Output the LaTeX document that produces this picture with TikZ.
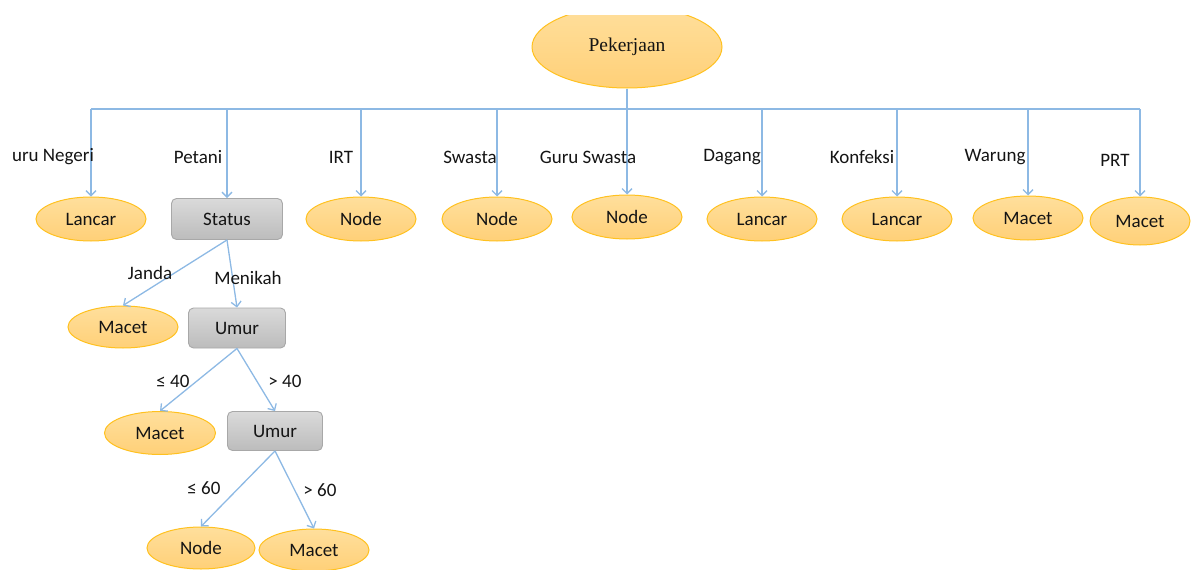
\documentclass[tikz,border=0pt]{standalone}
\usepackage{fontspec}
\setmainfont{Carlito}
\newfontfamily\rootfont{Liberation Serif}
\usetikzlibrary{arrows.meta,shapes.geometric}

\definecolor{leafline}{HTML}{FFC11F}
\definecolor{leaftop}{HTML}{FFDF9C}
\definecolor{leafbot}{HTML}{FFD078}
\definecolor{boxline}{HTML}{A8A8A8}
\definecolor{boxtop}{HTML}{DADADA}
\definecolor{boxbot}{HTML}{BCBCBC}
\definecolor{linkc}{HTML}{8DB9E4}
\definecolor{txt}{HTML}{141414}

\begin{document}
\begin{tikzpicture}[x=1pt,y=-1pt,
  every node/.style={text=txt},
  leaf/.style={ellipse, draw=leafline, line width=1pt, top color=leaftop,
    bottom color=leafbot, minimum width=110pt, minimum height=44pt,
    inner sep=0pt, font=\fontsize{19}{22}\selectfont},
  test/.style={rectangle, rounded corners=5pt, draw=boxline, line width=0.9pt,
    top color=boxtop, bottom color=boxbot, inner sep=0pt,
    font=\fontsize{19}{22}\selectfont},
  rootnode/.style={ellipse, draw=leafline, line width=1pt, top color=leaftop,
    bottom color=leafbot, minimum width=190pt, minimum height=82pt,
    inner sep=0pt, font=\rootfont\fontsize{19.5}{22}\selectfont},
  link/.style={draw=linkc, line width=1.3pt},
  arr/.style={link, -{Straight Barb[length=5pt,width=10pt,line width=1.3pt]}},
  lab/.style={inner sep=0pt, font=\fontsize{19}{22}\selectfont}
]
\useasboundingbox (0,0) rectangle (1192,570);

% root, cut off along the upper edge
\begin{scope}
  \clip (0,15) rectangle (1192,570);
  \node[rootnode] (root) at (627,47) {Pekerjaan};
\end{scope}

% first level
\node[leaf] (c1) at (91,219) {Lancar};
\node[test, minimum width=111pt, minimum height=41pt] (c2) at (227,219) {Status};
\node[leaf] (c3) at (361,219) {Node};
\node[leaf] (c4) at (497,219) {Node};
\node[leaf] (c5) at (627,217) {Node};
\node[leaf] (c6) at (762,219) {Lancar};
\node[leaf] (c7) at (897,219) {Lancar};
\node[leaf] (c8) at (1028,218) {Macet};
\node[leaf, minimum width=100pt, minimum height=48pt] (c9) at (1140,221) {Macet};

% bus points
\coordinate (b1) at (91,109);
\coordinate (b2) at (227,109);
\coordinate (b3) at (361,109);
\coordinate (b4) at (497,109);
\coordinate (b5) at (627,109);
\coordinate (b6) at (762,109);
\coordinate (b7) at (897,109);
\coordinate (b8) at (1028,109);
\coordinate (b9) at (1140,109);

\draw[link] (root.south) -- (b5);
\draw[link] (b1) -- (b9);
\foreach \i in {1,...,9} {
  \draw[arr] (b\i) -- (c\i.north);
}

% branch labels, first level
\node[lab] (l1) at (53,157) {uru Negeri};
\node[lab] (l2) at (198,157) {Petani};
\node[lab] (l3) at (341,157) {IRT};
\node[lab] (l4) at (470,157) {Swasta};
\node[lab] (l5) at (588,157) {Guru Swasta};
\node[lab] (l6) at (732,157) {Dagang};
\node[lab] (l7) at (862,157) {Konfeksi};
\node[lab] (l8) at (995,157) {Warung};
\node[lab] (l9) at (1115,160) {PRT};

% Status subtree
\node[leaf, minimum height=42pt] (m1) at (123,327) {Macet};
\node[test, minimum width=97pt, minimum height=40pt] (u1) at (237,328) {Umur};
\draw[arr] (c2.south) -- (m1.north);
\draw[arr] (c2.south) -- (u1.north);
\node[lab] (lj) at (150,273) {Janda};
\node[lab] (lm) at (248,278) {Menikah};

% first Umur split
\node[leaf, minimum width=111pt, minimum height=43pt] (m2) at (160,433) {Macet};
\node[test, minimum width=95pt, minimum height=39pt] (u2) at (275,431) {Umur};
\draw[arr] (u1.south) -- (m2.north);
\draw[arr] (u1.south) -- (u2.north);
\node[lab] (la) at (173,381) {≤ 40};
\node[lab] (lb) at (285,381) {> 40};

% second Umur split
\node[leaf, minimum width=108pt, minimum height=42pt] (n3) at (201,548) {Node};
\node[leaf, minimum height=42pt] (m3) at (314,550) {Macet};
\draw[arr] (u2.south) -- (n3.north);
\draw[arr] (u2.south) -- (m3.north);
\node[lab] (lc) at (204,488) {≤ 60};
\node[lab] (ld) at (320,490) {> 60};
\end{tikzpicture}
\end{document}
